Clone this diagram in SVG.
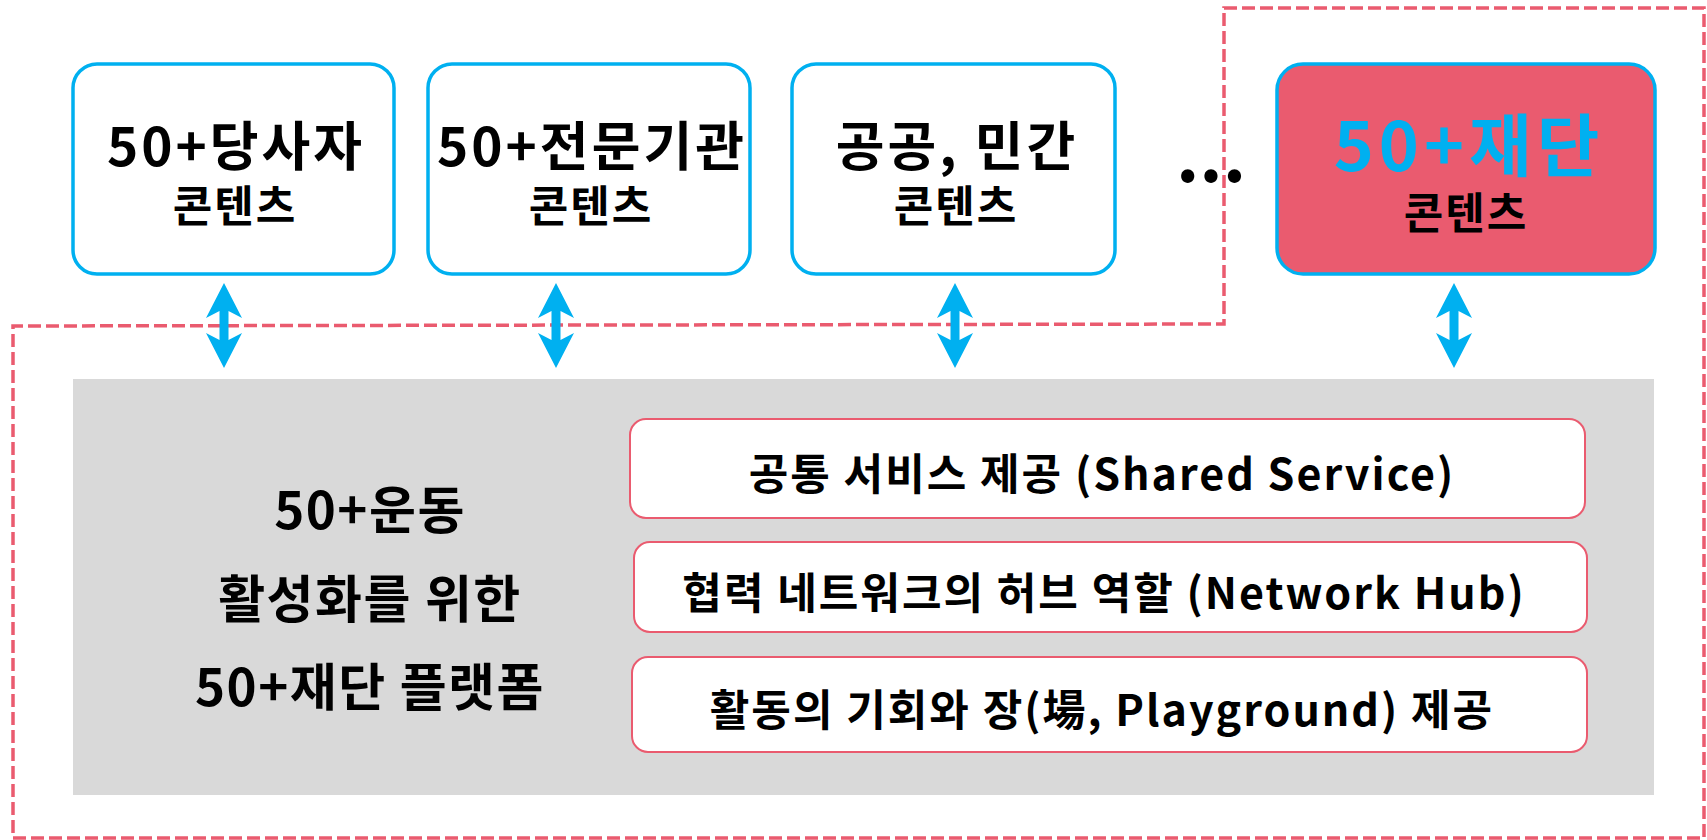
<svg xmlns="http://www.w3.org/2000/svg" xmlns:xlink="http://www.w3.org/1999/xlink" width="1707" height="840" viewBox="0 0 1707 840">
<style>
text{font-family:"Noto Sans CJK KR","Noto Sans",sans-serif;font-weight:bold;text-anchor:middle;fill:#000}
.top{fill:#fff;stroke:#00B0F0;stroke-width:3.5}
.topred{fill:#EA5B6F;stroke:#00B0F0;stroke-width:3.5}
.inner{fill:#fff;stroke:#EA5B6F;stroke-width:2}
.t1{font-size:53px;letter-spacing:3px}
.t2{font-size:43px;letter-spacing:2px}
.t3{font-size:51px;letter-spacing:1.5px}
.t4{font-size:43px;letter-spacing:2px}
.dash{fill:none;stroke:#EA5B6F;stroke-width:3.5;stroke-dasharray:13 5}
</style>
<defs>
<path id="dbl" fill="#00B0F0" d="M0 283 L18 318 L4.5 311 L4.5 340 L18 333 L0 368 L-18 333 L-4.5 340 L-4.5 311 L-18 318 Z"/>
</defs>
<rect width="1707" height="840" fill="#fff"/>
<g id="platform">
<rect x="73" y="379" width="1581" height="416" fill="#D9D9D9"/>
<text class="t3" x="370" y="529">50+운동</text>
<text class="t3" x="370" y="618">활성화를 위한</text>
<text class="t3" x="370" y="706">50+재단 플랫폼</text>
</g>
<g id="shared">
<rect class="inner" x="630" y="419" width="955" height="99" rx="16"/>
<text class="t4" x="1102" y="490">공통 서비스 제공 (Shared Service)</text>
</g>
<g id="hub">
<rect class="inner" x="634" y="542" width="953" height="90" rx="16"/>
<text class="t4" x="1104" y="609">협력 네트워크의 허브 역할 (Network Hub)</text>
</g>
<g id="playground">
<rect class="inner" x="632" y="657" width="955" height="95" rx="16"/>
<text class="t4" x="1102" y="726">활동의 기회와 장(場, Playground) 제공</text>
</g>
<g id="connectors">
<path class="dash" d="M1224 8 L1704 8 L1704 838 L13 838 L13 326 L1224 324 Z"/>
<use xlink:href="#dbl" x="224"/>
<use xlink:href="#dbl" x="556"/>
<use xlink:href="#dbl" x="955"/>
<use xlink:href="#dbl" x="1454"/>
</g>
<g id="n1">
<rect class="top" x="73" y="64" width="321" height="210" rx="24"/>
<text class="t1" x="236" y="166">50+당사자</text>
<text class="t2" x="235" y="222">콘텐츠</text>
</g>
<g id="n2">
<rect class="top" x="428" y="64" width="322" height="210" rx="24"/>
<text class="t1" x="592" y="166">50+전문기관</text>
<text class="t2" x="591" y="222">콘텐츠</text>
</g>
<g id="n3">
<rect class="top" x="792" y="64" width="323" height="210" rx="24"/>
<text class="t1" x="957" y="166">공공, 민간</text>
<text class="t2" x="956" y="222">콘텐츠</text>
</g>
<g id="ellipsis">
<text x="1211" y="182" style="font-size:72px">...</text>
</g>
<g id="n4">
<rect class="topred" x="1277" y="64" width="378" height="210" rx="26"/>
<text x="1469" y="171" style="font-size:68px;letter-spacing:5px;fill:#00B0F0">50+재단</text>
<text class="t2" x="1466" y="229">콘텐츠</text>
</g>
</svg>
